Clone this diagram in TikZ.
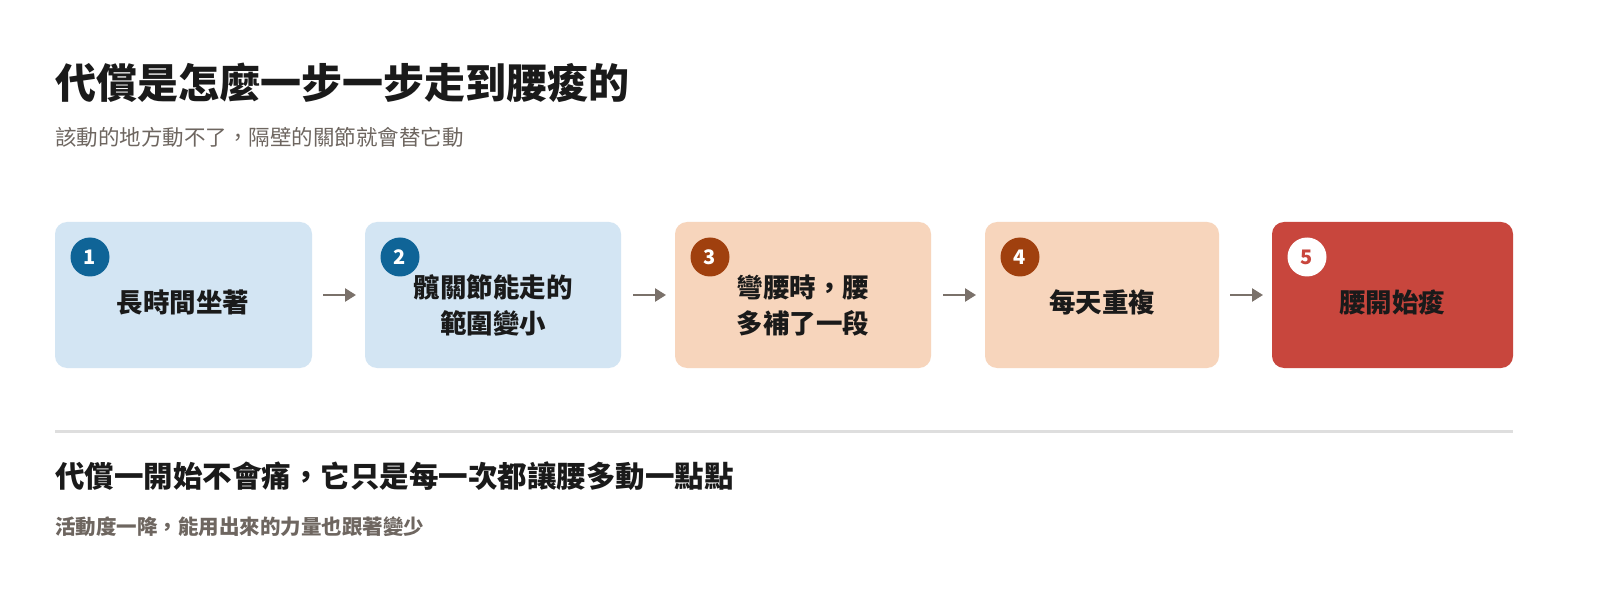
\documentclass[tikz,border=0pt]{standalone}
\usepackage{fontspec}
\setmainfont{Noto Sans CJK TC}
\usetikzlibrary{arrows.meta}
\definecolor{lb}{HTML}{D3E5F3}
\definecolor{bc}{HTML}{0F6497}
\definecolor{pe}{HTML}{F7D5BC}
\definecolor{brc}{HTML}{A0400E}
\definecolor{rd}{HTML}{C8463D}
\definecolor{ag}{HTML}{7A716A}
\definecolor{gt}{HTML}{6E6660}
\definecolor{dk}{HTML}{1A1A1A}
\begin{document}
\begin{tikzpicture}[x=1pt,y=-1pt,
 box/.style={rounded corners=12pt,draw=none},
 num/.style={circle,minimum size=39pt,inner sep=0pt,font=\fontsize{20}{20}\selectfont\bfseries},
 lbl/.style={align=center,font=\fontsize{26.5}{36}\selectfont\bfseries,text=dk},
 arr/.style={draw=ag,line width=2.5pt,-{Triangle[length=11pt,width=13pt]}}]
\useasboundingbox[fill=white] (0,0) rectangle (1600,593);
\node[anchor=west,inner sep=0pt,font=\fontsize{41}{41}\selectfont\bfseries,text=dk] (title) at (55,83) {代償是怎麼一步一步走到腰痠的};
\node[anchor=west,inner sep=0pt,font=\fontsize{21.5}{21.5}\selectfont,text=gt] (sub) at (55,137) {該動的地方動不了，隔壁的關節就會替它動};
\fill[lb,box] (55,222) rectangle (312,368);
\fill[lb,box] (365,222) rectangle (621,368);
\fill[pe,box] (675,222) rectangle (931,368);
\fill[pe,box] (985,222) rectangle (1219,368);
\fill[rd,box] (1272,222) rectangle (1513,368);
\node[num,fill=bc,text=white] (c1) at (90,257) {1};
\node[num,fill=bc,text=white] (c2) at (400,257) {2};
\node[num,fill=brc,text=white] (c3) at (710,257) {3};
\node[num,fill=brc,text=white] (c4) at (1020,257) {4};
\node[num,fill=white,text=rd] (c5) at (1307,257) {5};
\node[lbl] (t1) at (183,302) {長時間坐著};
\node[lbl] (t2) at (493,305) {髖關節能走的\\範圍變小};
\node[lbl] (t3) at (803,305) {彎腰時，腰\\多補了一段};
\node[lbl] (t4) at (1102,302) {每天重複};
\node[lbl] (t5) at (1392,302) {腰開始痠};
\coordinate (a1) at (323,295); \coordinate (b1) at (356,295);
\coordinate (a2) at (633,295); \coordinate (b2) at (666,295);
\coordinate (a3) at (943,295); \coordinate (b3) at (976,295);
\coordinate (a4) at (1230,295); \coordinate (b4) at (1263,295);
\draw[arr] (a1) -- (b1); \draw[arr] (a2) -- (b2);
\draw[arr] (a3) -- (b3); \draw[arr] (a4) -- (b4);
\coordinate (l1) at (55,431); \coordinate (l2) at (1513,431);
\draw[line width=3pt,draw=black!13] (l1) -- (l2);
\node[anchor=west,inner sep=0pt,font=\fontsize{29.5}{29.5}\selectfont\bfseries,text=dk] (h2) at (55,476) {代償一開始不會痛，它只是每一次都讓腰多動一點點};
\node[anchor=west,inner sep=0pt,font=\fontsize{20.5}{20.5}\selectfont\bfseries,text=gt] (s2) at (55,527) {活動度一降，能用出來的力量也跟著變少};
\end{tikzpicture}
\end{document}
